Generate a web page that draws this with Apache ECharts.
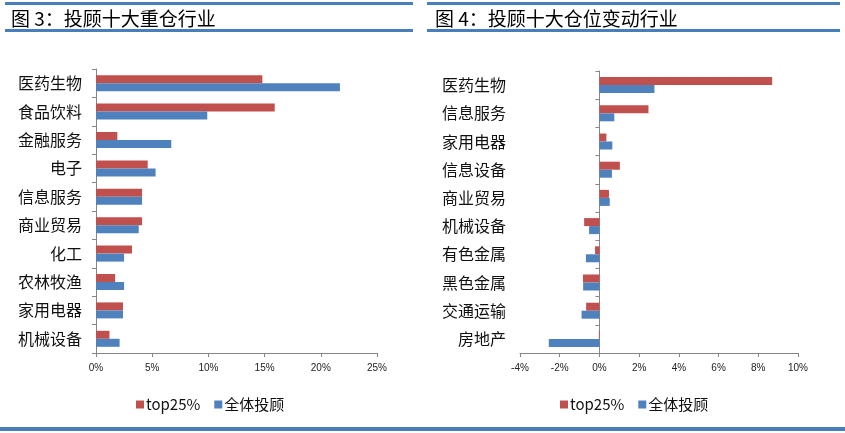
<!DOCTYPE html>
<html>
<head>
<meta charset="utf-8">
<script src="https://cdn.jsdelivr.net/npm/echarts@6/dist/echarts.min.js"></script>
<style>
  html, body { margin: 0; padding: 0; background: #fff; }
  #c { width: 845px; height: 433px; }
</style>
</head>
<body>
<div id="c"></div>
<script>
// Figure 3 : top-10 holdings by industry (%)
const cat3 = ["医药生物", "食品饮料", "金融服务", "电子", "信息服务", "商业贸易", "化工", "农林牧渔", "家用电器", "机械设备"];
const top3 = [14.8, 15.9, 1.9, 4.6, 4.1, 4.1, 3.2, 1.7, 2.4, 1.2];
const all3 = [21.7, 9.9, 6.7, 5.3, 4.1, 3.8, 2.5, 2.5, 2.4, 2.1];
const ticks3 = [0, 5, 10, 15, 20, 25];

// Figure 4 : top-10 position changes (%)
const cat4 = ["医药生物", "信息服务", "家用电器", "信息设备", "商业贸易", "机械设备", "有色金属", "黑色金属", "交通运输", "房地产"];
const top4 = [8.7, 2.47, 0.35, 1.03, 0.48, -0.77, -0.22, -0.83, -0.67, -0.03];
const all4 = [2.77, 0.75, 0.65, 0.63, 0.52, -0.52, -0.68, -0.82, -0.9, -2.55];
const ticks4 = [-4, -2, 0, 2, 4, 6, 8, 10];

const RED = "#C0504D";
const BLUE = "#4F81BD";
const LINE = "#4A7EBB";
const AXIS = "#868686";
const CJK = "'Noto Sans CJK SC', sans-serif";
const NARROW = "'Liberation Sans Narrow', 'Liberation Sans', sans-serif";

const catLabel = { color: "#111", fontFamily: CJK, fontSize: 16, margin: 14 };
const valLabel = { color: "#222", fontFamily: NARROW, fontSize: 10, margin: 10, formatter: "{value}%" };
const axisLine = { show: true, lineStyle: { color: AXIS, width: 1 } };
const tick = { show: true, length: 4, lineStyle: { color: AXIS } };
const titleText = { fontFamily: CJK, fontSize: 19, fontWeight: "normal", color: "#000" };

function legend(left) {
  return {
    left: left, top: 392, itemWidth: 8, itemHeight: 8, itemGap: 14, icon: "rect",
    textStyle: { fontFamily: CJK, fontSize: 15, color: "#111", padding: [0, 0, 0, -3] },
    data: ["top25%", "全体投顾"]
  };
}

function serie(name, color, data, xi, yi) {
  return { name, type: "bar", xAxisIndex: xi, yAxisIndex: yi, data, barWidth: 8, barGap: "0%",
    itemStyle: { color }, emphasis: { disabled: true } };
}

const chart = echarts.init(document.getElementById("c"));
chart.setOption({
  animation: false,
  title: [
    { text: "图 3：投顾十大重仓行业", left: 6, top: 4, textStyle: titleText },
    { text: "图 4：投顾十大仓位变动行业", left: 430, top: 4, textStyle: titleText }
  ],
  graphic: [
    { type: "rect", shape: { x: 5, y: 2, width: 408, height: 3 }, style: { fill: LINE } },
    { type: "rect", shape: { x: 5, y: 29, width: 408, height: 3 }, style: { fill: LINE } },
    { type: "rect", shape: { x: 427, y: 2, width: 413, height: 3 }, style: { fill: LINE } },
    { type: "rect", shape: { x: 427, y: 29, width: 413, height: 3 }, style: { fill: LINE } },
    { type: "rect", shape: { x: 0, y: 427, width: 845, height: 4 }, style: { fill: LINE } }
  ],
  legend: [legend(131), legend(555)],
  grid: [
    { left: 96, right: 468, top: 69, bottom: 80 },
    { left: 520, right: 47, top: 71, bottom: 80 }
  ],
  xAxis: [
    { type: "value", gridIndex: 0, min: ticks3[0], max: ticks3[ticks3.length - 1], interval: 5,
      axisLine, axisTick: tick, axisLabel: valLabel, splitLine: { show: false } },
    { type: "value", gridIndex: 1, min: ticks4[0], max: ticks4[ticks4.length - 1], interval: 2,
      axisLine, axisTick: tick, axisLabel: valLabel, splitLine: { show: false } }
  ],
  yAxis: [
    { type: "category", gridIndex: 0, data: cat3, inverse: true,
      axisLine: Object.assign({ onZero: false }, axisLine), axisTick: tick, axisLabel: catLabel },
    { type: "category", gridIndex: 1, data: cat4, inverse: true,
      axisLine: { show: false, onZero: false }, axisTick: { show: false }, axisLabel: catLabel },
    { type: "category", gridIndex: 1, data: cat4, inverse: true, position: "left",
      axisLine: Object.assign({ onZero: true }, axisLine), axisTick: tick, axisLabel: { show: false } }
  ],
  series: [
    serie("top25%", RED, top3, 0, 0),
    serie("全体投顾", BLUE, all3, 0, 0),
    serie("top25%", RED, top4, 1, 1),
    serie("全体投顾", BLUE, all4, 1, 1)
  ]
});
</script>
</body>
</html>
